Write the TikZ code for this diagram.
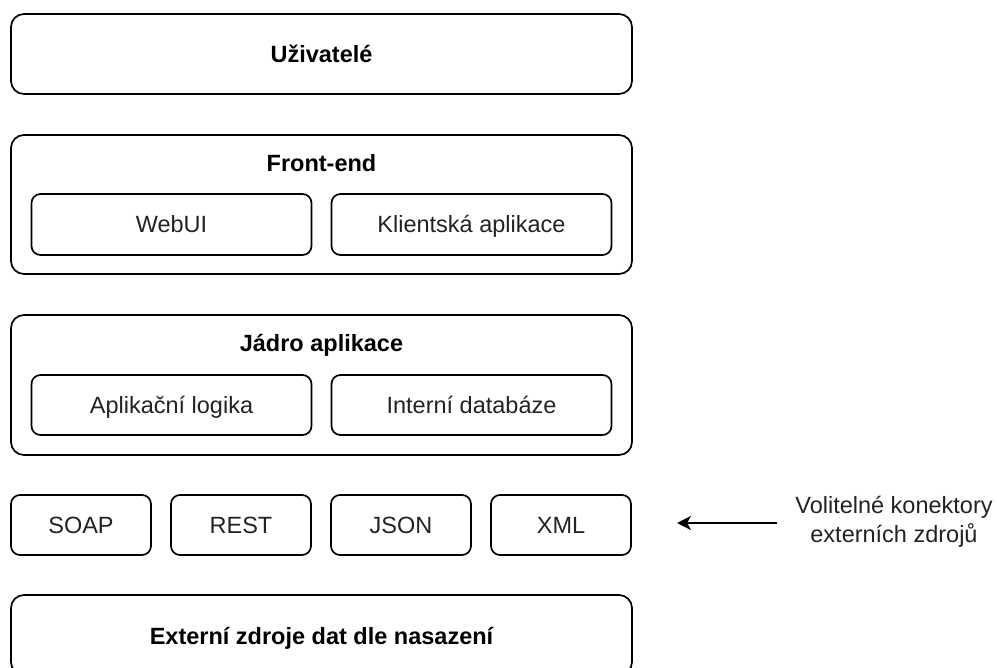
\documentclass[tikz,border=0pt]{standalone}
\usepackage{fontspec}
\setmainfont{Liberation Sans}
\usetikzlibrary{arrows.meta}
\definecolor{txt}{HTML}{222222}
\begin{document}
\begin{tikzpicture}[x=1pt,y=-1pt,
  big/.style={draw=black,line width=1.7pt,rounded corners=13pt,inner sep=0pt,outer sep=0pt},
  small/.style={draw=black,line width=1.7pt,rounded corners=9pt,inner sep=0pt,outer sep=0pt},
  txtstyle/.style={inner sep=0pt,text height=17pt,text depth=0pt,text=txt,font=\fontsize{23.5}{28}\selectfont},
  lbl/.style={inner sep=0pt,text height=17pt,text depth=0pt,font=\bfseries\fontsize{23.5}{28}\selectfont,text=black},
  note/.style={inner sep=0pt,align=center,text=txt,font=\fontsize{23.5}{29}\selectfont}]
\useasboundingbox (0,0) rectangle (997,668);
\clip (0,0) rectangle (997,668);
% Uzivatele
\node[big,minimum width=621pt,minimum height=80pt] (users) at (321.5,54) {};
\node[lbl] (usersl) at (321.5,54.5) {Uživatelé};
% Front-end
\node[big,minimum width=621pt,minimum height=139pt] (fe) at (321.5,204.5) {};
\node[lbl] (fel) at (321.5,163.5) {Front-end};
\node[small,minimum width=280pt,minimum height=61pt] (webui) at (171.5,224.5) {};
\node[txtstyle] (webuil) at (webui.center) {WebUI};
\node[small,minimum width=280pt,minimum height=61pt] (klient) at (471.5,224.5) {};
\node[txtstyle] (klientl) at (klient.center) {Klientská aplikace};
% Jadro
\node[big,minimum width=621pt,minimum height=140pt] (core) at (321.5,385) {};
\node[lbl] (corel) at (321.5,343.5) {Jádro aplikace};
\node[small,minimum width=280pt,minimum height=60pt] (logic) at (171.5,405) {};
\node[txtstyle] (logicl) at (logic.center) {Aplikační logika};
\node[small,minimum width=280pt,minimum height=60pt] (db) at (471.5,405) {};
\node[txtstyle] (dbl) at (db.center) {Interní databáze};
% connectors
\node[small,minimum width=140pt,minimum height=60pt] (soap) at (81,525) {};
\node[txtstyle] (soapl) at (soap.center) {SOAP};
\node[small,minimum width=140pt,minimum height=60pt] (rest) at (241,525) {};
\node[txtstyle] (restl) at (rest.center) {REST};
\node[small,minimum width=140pt,minimum height=60pt] (json) at (401,525) {};
\node[txtstyle] (jsonl) at (json.center) {JSON};
\node[small,minimum width=140pt,minimum height=60pt] (xml) at (561,525) {};
\node[txtstyle] (xmll) at (xml.center) {XML};
% external
\node[big,minimum width=621pt,minimum height=80pt] (ext) at (321.5,635) {};
\node[lbl] (extl) at (321.5,636) {Externí zdroje dat dle nasazení};
% note and arrow
\node[note] (nt) at (894,522) {Volitelné konektory\\externích zdrojů};
\coordinate (a1) at (777,523);
\coordinate (a2) at (677,523);
\draw[line width=1.8pt,-{Stealth[length=14pt,width=14pt,inset=4pt]}] (a1) -- (a2);
\end{tikzpicture}
\end{document}
